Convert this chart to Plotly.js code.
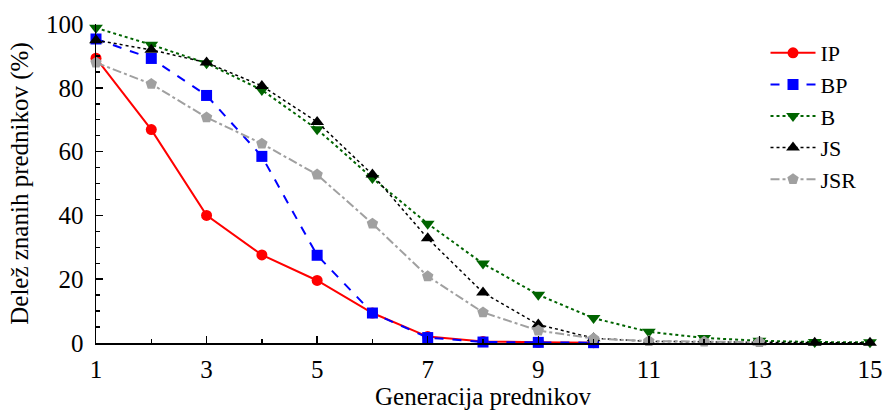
<!DOCTYPE html>
<html>
<head>
<meta charset="utf-8">
<script src="https://cdn.plot.ly/plotly-3.0.1.min.js"></script>
<style>html,body{margin:0;padding:0;background:#fff;}</style>
</head>
<body>
<div id="chart" style="width:885px;height:412px"></div>
<script>
const generations = [1, 2, 3, 4, 5, 6, 7, 8, 9, 10, 11, 12, 13, 14, 15];
const seriesNames = ["IP", "BP", "B", "JS", "JSR"];
const ipValues  = [89.3, 66.9, 40.0, 27.6, 19.6, 9.4, 2.0, 0.5, 0.2, 0.1];
const bpValues  = [95.3, 89.2, 77.6, 58.5, 27.5, 9.4, 1.7, 0.3, 0.2, 0.1];
const bValues   = [98.8, 93.5, 87.7, 79.3, 67.0, 51.7, 37.4, 24.9, 15.1, 7.8, 3.5, 1.6, 0.7, 0.3, 0.2];
const jsValues  = [94.9, 91.9, 87.9, 80.6, 69.3, 52.8, 32.8, 15.8, 5.8, 1.5, 0.5, 0.3, 0.2, 0.1, 0.1];
const jsrValues = [87.9, 81.2, 70.7, 62.5, 52.8, 37.4, 20.9, 9.6, 3.9, 1.4, 0.6, 0.4, 0.3];
const xTickVals = [1, 3, 5, 7, 9, 11, 13, 15];
const yTickVals = [0, 20, 40, 60, 80, 100];

const styles = [
  {color: "#ff0000", dash: "solid", symbol: "circle", size: 11},
  {color: "#0000ff", dash: "dash", symbol: "square", size: 11},
  {color: "#006400", dash: "dot", symbol: "triangle-down", size: 12},
  {color: "#000000", dash: "dot", symbol: "triangle-up", size: 12},
  {color: "#a0a0a0", dash: "dashdot", symbol: "pentagon", size: 12}
];
const allValues = [ipValues, bpValues, bValues, jsValues, jsrValues];

const traces = allValues.map((vals, i) => ({
  x: generations.slice(0, vals.length),
  y: vals,
  name: seriesNames[i],
  type: "scatter",
  mode: "lines+markers",
  cliponaxis: false,
  line: {color: styles[i].color, dash: styles[i].dash, width: i === 3 ? 1.5 : 2},
  marker: {color: styles[i].color, symbol: styles[i].symbol, size: styles[i].size}
}));

const fam = "Liberation Serif";

const layout = {
  width: 885, height: 412,
  margin: {l: 96, r: 15, t: 24, b: 69},
  paper_bgcolor: "#fff", plot_bgcolor: "#fff",
  font: {family: fam, size: 25, color: "#000"},
  showlegend: true,
  legend: {
    x: 0.865, y: 0.975, xanchor: "left", yanchor: "top",
    bgcolor: "rgba(0,0,0,0)",
    font: {family: fam, size: 22, color: "#000"},
    itemwidth: 45,
    tracegroupgap: 0
  },
  xaxis: {
    range: [1, 15],
    tickvals: xTickVals,
    ticks: "inside", ticklen: 7, tickwidth: 1.5, tickcolor: "#000",
    minor: {dtick: 1, tick0: 1, ticks: "inside", ticklen: 4, tickwidth: 1.5, tickcolor: "#000", showgrid: false},
    showline: true, linecolor: "#000", linewidth: 1.5,
    showgrid: false, zeroline: false,
    ticklabelstandoff: 3,
    tickfont: {family: fam, size: 25, color: "#000"},
    title: {text: "Generacija prednikov", font: {family: fam, size: 25, color: "#000"}, standoff: 4}
  },
  yaxis: {
    range: [0, 100],
    tickvals: yTickVals,
    ticks: "inside", ticklen: 7, tickwidth: 1.5, tickcolor: "#000",
    minor: {dtick: 5, tick0: 0, ticks: "inside", ticklen: 4, tickwidth: 1.5, tickcolor: "#000", showgrid: false},
    showline: true, linecolor: "#000", linewidth: 1.5,
    showgrid: false, zeroline: false,
    ticklabelstandoff: 6,
    tickfont: {family: fam, size: 25, color: "#000"},
    title: {text: "Delež znanih prednikov (%)", font: {family: fam, size: 25, color: "#000"}, standoff: 10}
  }
};

Plotly.newPlot("chart", traces, layout, {displayModeBar: false, staticPlot: true});
</script>
</body>
</html>
